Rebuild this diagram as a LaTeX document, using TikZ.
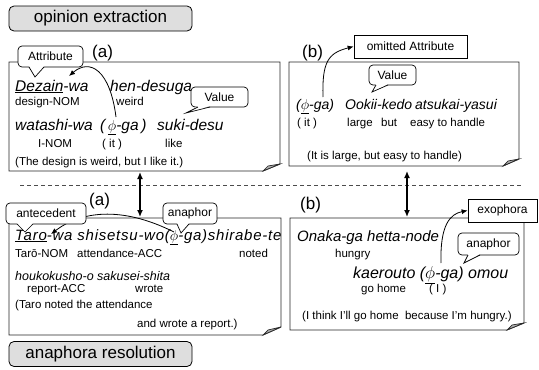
\documentclass[tikz,border=0pt]{standalone}
\usepackage{fontspec}
\setmainfont{Liberation Sans}
\usetikzlibrary{arrows.meta,calc}
\tikzset{
  jp/.style={anchor=base west, inner sep=0pt, font=\fontsize{15.5}{17}\selectfont\itshape},
  jpr/.style={anchor=base west, inner sep=0pt, font=\fontsize{14}{16}\selectfont\itshape},
  jpl/.style={anchor=base west, inner sep=0pt, font=\fontsize{15}{17}\selectfont\itshape},
  jpo/.style={anchor=base west, inner sep=0pt, font=\fontsize{15}{17}\selectfont\itshape},
  jpb/.style={anchor=base west, inner sep=0pt, font=\fontsize{16}{18}\selectfont\itshape},
  jps/.style={anchor=base west, inner sep=0pt, font=\fontsize{12.5}{14}\selectfont\itshape},
  gl/.style={anchor=base west, inner sep=0pt, font=\fontsize{11.5}{13}\selectfont},
  lbl/.style={anchor=base west, inner sep=0pt, font=\fontsize{17}{19}\selectfont},
  hdr/.style={draw=black, fill=black!13, rounded corners=5pt, line width=0.8pt, minimum width=183pt, minimum height=25pt, inner sep=0pt, font=\fontsize{17}{19}\selectfont},
  callout/.style={draw=black, fill=white, rounded corners=4pt, line width=0.7pt, inner sep=0pt, font=\fontsize{12}{14}\selectfont},
  tag/.style={draw=black, fill=white, line width=0.7pt, inner sep=0pt, font=\fontsize{12}{14}\selectfont},
  note/.style={draw=black!85, line width=0.9pt, fill=white},
  fold/.style={draw=black!85, line width=0.7pt, fill=black!30},
  tail/.style={draw=black, line width=0.7pt},
  curvearrow/.style={draw=black, line width=0.8pt, -{Latex[length=6pt,width=5pt]}},
  dblarrow/.style={draw=black, line width=1.3pt, {Latex[length=7pt,width=6pt]}-{Latex[length=7pt,width=6pt]}},
}
\begin{document}
\begin{tikzpicture}[x=1pt,y=-1pt]
\useasboundingbox (0,0) rectangle (539,370);

% headers
\node[hdr] (h1) at (100.5,18.5) {opinion extraction};
\node[hdr] (h2) at (100.5,354) {anaphora resolution};

% dashed separator
\coordinate (dl) at (20,185);
\coordinate (dr) at (523,185);
\draw[black!70, line width=0.6pt, dash pattern=on 4pt off 3pt] (dl) -- (dr);

% note boxes with folded corner
\draw[note] (9,62) -- (280,62) -- (280,164) -- (263,171) -- (9,171) -- cycle;
\draw[fold] (263,171) -- (268,166) -- (280,164) -- cycle;
\draw[note] (289,62) -- (519,62) -- (519,159) -- (503,166) -- (289,166) -- cycle;
\draw[fold] (503,166) -- (508,161) -- (519,159) -- cycle;
\draw[note] (9,218) -- (281,218) -- (281,327) -- (263,335) -- (9,335) -- cycle;
\draw[fold] (263,335) -- (268,330) -- (281,327) -- cycle;
\draw[note] (290,218) -- (524,218) -- (524,323) -- (507,330) -- (290,330) -- cycle;
\draw[fold] (507,330) -- (512,325) -- (524,323) -- cycle;

% double arrows between boxes
\coordinate (a1t) at (140,172);
\coordinate (a1b) at (140,217);
\coordinate (a2t) at (407,171);
\coordinate (a2b) at (407,217);
\draw[dblarrow] (a1t) -- (a1b);
\draw[dblarrow] (a2t) -- (a2b);

% ---------- top-left (a) ----------
\node[lbl] (la) at (92,57) {(a)};
\node[jp] (tl1a) at (15,91) {\underline{Dezain}-wa};
\node[jp] (tl1b) at (110,91) {hen-desuga};
\node[gl] (tl2a) at (15,105) {design-NOM};
\node[gl] (tl2b) at (116,105) {weird};
\node[jp] (tl3a) at (15,130) {watashi-wa};
\node[jp] (tl3b) at (100,130) {(\,\underline{$\phi$}-ga\,)};
\node[jp] (tl3c) at (157,130) {suki-desu};
\node[gl] (tl4a) at (38,147) {I-NOM};
\node[gl] (tl4b) at (102,147) {( it )};
\node[gl] (tl4c) at (165,147) {like};
\node[gl] (tl5) at (15,165) {(The design is weird, but I like it.)};

\coordinate (p1s) at (116,117);
\coordinate (p1e) at (69,76);
\draw[curvearrow] (p1s) .. controls (110,70) and (90,58) .. (p1e);

\node[callout, minimum width=65pt, minimum height=21pt] (attr) at (50.5,56.5) {Attribute};
\fill[white] (29,66) -- (35,77) -- (44,66) -- cycle;
\draw[tail] (29,67) -- (35,77) -- (44,67);

\node[callout, minimum width=57pt, minimum height=20pt] (val1) at (219.5,97) {Value};
\fill[white] (198,106) -- (186,113) -- (210,106) -- cycle;
\draw[tail] (198,107) -- (186,113) -- (210,107);

% ---------- top-right (b) ----------
\node[lbl] (lb) at (302,57) {(b)};
\node[tag, minimum width=113pt, minimum height=23pt] (omit) at (410.5,46.5) {omitted Attribute};
\node[jpr] (tr1a) at (296,109) {(\underline{$\phi$}-ga)};
\node[jpr] (tr1b) at (345,109) {Ookii-kedo};
\node[jpr] (tr1c) at (415,109) {atsukai-yasui};
\node[gl] (tr2a) at (297,126) {( it )};
\node[gl] (tr2b) at (347,126) {large};
\node[gl] (tr2c) at (381,126) {but};
\node[gl] (tr2d) at (410,126) {easy to handle};
\node[gl] (tr3) at (307,159) {(It is large, but easy to handle)};

\coordinate (p2s) at (323,97);
\draw[curvearrow] (p2s) .. controls (322,62) and (328,53) .. (omit.west);

\node[callout, minimum width=47pt, minimum height=20pt] (val2) at (392.5,75) {Value};
\fill[white] (376,84) -- (372,92) -- (388,84) -- cycle;
\draw[tail] (376,85) -- (372,92) -- (388,85);

% ---------- bottom-left (a) ----------
\node[lbl] (lc) at (89,205) {(a)};
\node[jpl] (bl1) at (15,240) {\addfontfeatures{LetterSpace=5}\underline{Taro}-wa shisetsu-wo(\underline{$\phi$}-ga)shirabe-te};
\node[gl] (bl2a) at (15,257) {Tar\=o-NOM};
\node[gl] (bl2b) at (77,257) {attendance-ACC};
\node[gl] (bl2c) at (239,257) {noted};
\node[jps] (bl3a) at (15,280) {houkokusho-o};
\node[jps] (bl3b) at (97,280) {sakusei-shita};
\node[gl] (bl4a) at (27,292) {report-ACC};
\node[gl] (bl4b) at (135,292) {wrote};
\node[gl] (bl5) at (15,308) {(Taro noted the attendance};
\node[gl] (bl6) at (137,327) {and wrote a report.)};

\coordinate (p3s) at (174,232);
\coordinate (p3e) at (51,234);
\draw[curvearrow] (p3s) .. controls (120,205) and (80,212) .. (p3e);

\node[callout, minimum width=80pt, minimum height=21pt] (ante) at (46,213.5) {antecedent};
\fill[white] (17,223) -- (25,232) -- (33,223) -- cycle;
\draw[tail] (17,224) -- (25,232) -- (33,224);

\node[callout, minimum width=54pt, minimum height=21pt] (ana1) at (190,213.5) {anaphor};
\fill[white] (177,223) -- (181,233) -- (189,223) -- cycle;
\draw[tail] (177,224) -- (181,233) -- (189,224);

% ---------- bottom-right (b) ----------
\node[lbl] (ld) at (300,209) {(b)};
\node[tag, minimum width=69pt, minimum height=23pt] (exo) at (502.5,210.5) {exophora};
\node[jpo] (br1) at (297,241) {Onaka-ga hetta-node};
\node[gl] (br2) at (335,257) {hungry};
\node[jpb] (br3) at (353,278) {kaerouto (\underline{$\phi$}-ga) omou};
\node[gl] (br4a) at (361,292) {go home};
\node[gl] (br4b) at (429,292) {( I )};
\node[gl] (br5) at (302,319) {(I think I'll go home\ \ because I'm hungry.)};

\coordinate (p4s) at (441,263);
\draw[curvearrow] (p4s) .. controls (440,225) and (450,214) .. (exo.west);

\node[callout, minimum width=61pt, minimum height=22pt] (ana2) at (488.5,244) {anaphor};
\fill[white] (468,254) -- (464,263) -- (480,254) -- cycle;
\draw[tail] (468,255) -- (464,263) -- (480,255);

\end{tikzpicture}
\end{document}
